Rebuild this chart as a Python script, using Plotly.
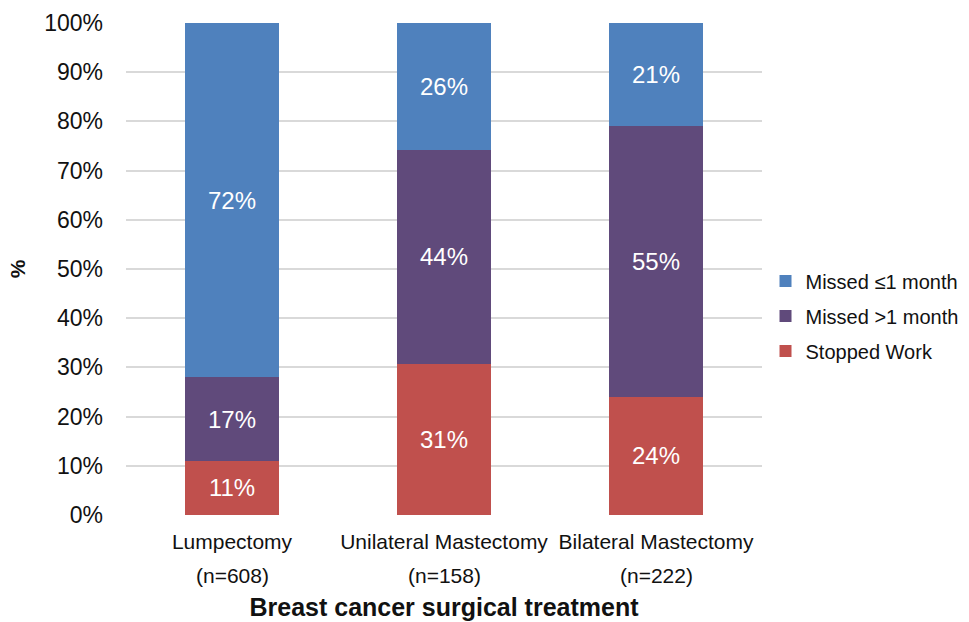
import plotly.graph_objects as go

# Share of patients by work outcome, per surgical treatment group
categories = ["Lumpectomy", "Unilateral Mastectomy", "Bilateral Mastectomy"]
group_sizes = [608, 158, 222]

stopped_work = [11, 31, 24]
missed_over_1m = [17, 44, 55]
missed_upto_1m = [72, 26, 21]

y_ticks = [0, 10, 20, 30, 40, 50, 60, 70, 80, 90, 100]

FONT = "Liberation Sans, Arial, sans-serif"

# (name, values, colour, legend position) — stacked bottom to top
series = [
    ("Stopped Work", stopped_work, "#C0504D", 3),
    ("Missed >1 month", missed_over_1m, "#604A7B", 2),
    ("Missed ≤1 month", missed_upto_1m, "#4F81BD", 1),
]

fig = go.Figure()
for name, vals, color, rank in series:
    fig.add_trace(go.Bar(
        x=categories,
        y=vals,
        name=name,
        legendgroup=name,
        legendrank=rank,
        marker=dict(color=color, line=dict(width=0)),
        text=vals,
        texttemplate="%{text}%",
        textposition="inside",
        insidetextanchor="middle",
        textangle=0,
        textfont=dict(family=FONT, size=24, color="white"),
        hovertemplate="%{x}<br>" + name + ": %{text}%<extra></extra>",
    ))

# Group sizes shown as a second line under each category name
for cat, n in zip(categories, group_sizes):
    fig.add_annotation(
        x=cat, y=0, xref="x", yref="paper",
        text=f"(n={n})", showarrow=False,
        yanchor="middle", yshift=-60,
        font=dict(family=FONT, size=21, color="#111111"),
    )

fig.update_layout(
    barmode="stack",
    barnorm="percent",
    bargap=0.56,
    width=969,
    height=622,
    margin=dict(l=126, r=207, t=23, b=107, autoexpand=False),
    paper_bgcolor="white",
    plot_bgcolor="white",
    font=dict(family=FONT, color="#111111"),
    legend=dict(
        traceorder="grouped",
        tracegroupgap=6,
        xref="container", yref="container",
        x=0.79, xanchor="left",
        y=0.492, yanchor="middle",
        font=dict(family=FONT, size=20, color="#111111"),
        bgcolor="rgba(0,0,0,0)",
        itemwidth=30,
    ),
    xaxis=dict(
        showline=False,
        showgrid=False,
        ticks="",
        ticklabelstandoff=12,
        tickfont=dict(family=FONT, size=21, color="#111111"),
        title=dict(
            text="<b>Breast cancer surgical treatment</b>",
            font=dict(family=FONT, size=25, color="#111111"),
            standoff=46,
        ),
        automargin=False,
    ),
    yaxis=dict(
        range=[0, 100],
        tickvals=y_ticks,
        ticktext=[f"{v}%" for v in y_ticks],
        showgrid=True,
        gridcolor="#D9D9D9",
        gridwidth=1.5,
        zeroline=False,
        showline=False,
        ticks="",
        ticklabelstandoff=22,
        tickfont=dict(family=FONT, size=23, color="#111111"),
        title=dict(
            text="<b>%</b>",
            font=dict(family=FONT, size=21, color="#111111"),
            standoff=12,
        ),
        automargin=False,
    ),
)

fig.write_html("out.html")
